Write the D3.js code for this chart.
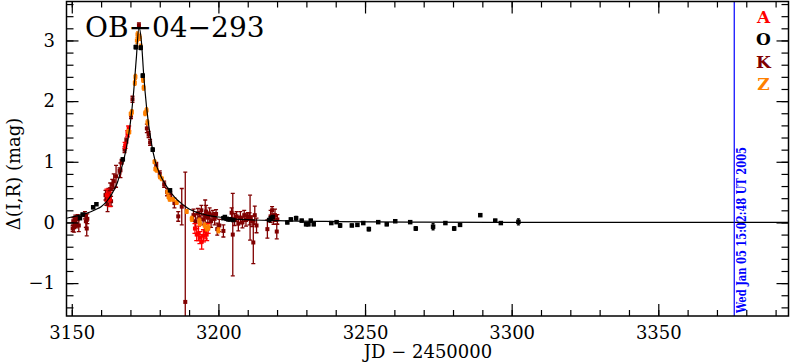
<!DOCTYPE html>
<html lang="en">
<head>
<meta charset="UTF-8">
<style>
  body { margin: 0; background: #fff; }
  text { font-family: "DejaVu Serif", serif; }
</style>
</head>
<body>
<script src="https://d3js.org/d3.v7.min.js"></script>
<script>
// model light curve: [JD-2450000, mag]
var model = [
  [3148.2, 0.07], [3150, 0.09], [3155, 0.15], [3158, 0.21], [3160, 0.26], [3162, 0.35],
  [3164, 0.50], [3165.5, 0.65], [3167, 0.90], [3168.5, 1.20], [3170, 1.65], [3171, 2.10],
  [3172, 2.70], [3172.9, 3.22], [3173.8, 2.95], [3174.5, 2.45], [3175.5, 1.90], [3177, 1.35],
  [3178.5, 1.00], [3180, 0.80], [3182, 0.62], [3184, 0.48], [3186, 0.37], [3188, 0.29],
  [3190, 0.22], [3193, 0.16], [3196, 0.12], [3200, 0.09], [3205, 0.06], [3210, 0.045],
  [3220, 0.03], [3240, 0.015], [3270, 0.005], [3300, 0], [3394.4, 0]
]

// observatories: [JD-2450000, mag, error]
var dataO = [
  [3152.8, 0.07, 0.02], [3153.7, 0.13, 0.02], [3157.3, 0.25, 0.02], [3158.4, 0.30, 0.02],
  [3167.4, 1.04, 0.02], [3171.8, 2.89, 0.03], [3173.5, 2.88, 0.03], [3174.2, 2.42, 0.03],
  [3177.6, 1.20, 0.03], [3183.5, 0.53, 0.02], [3201.7, 0.07, 0.02], [3202.2, 0.09, 0.02],
  [3202.8, 0.06, 0.02], [3203.4, 0.05, 0.02], [3204.0, 0.05, 0.02], [3205.1, 0.04, 0.02],
  [3217.3, 0.04, 0.02], [3217.9, 0.07, 0.02], [3218.5, 0.09, 0.02],
  [3223.5, 0.00, 0.02], [3224.7, 0.05, 0.02], [3226.5, 0.07, 0.03], [3228.4, 0.03, 0.02],
  [3229.9, -0.03, 0.02], [3230.7, -0.03, 0.02], [3231.5, 0.03, 0.02], [3232.5, -0.03, 0.02],
  [3238.5, -0.01, 0.02], [3240.3, 0.005, 0.02], [3241.5, -0.05, 0.03], [3245.5, -0.05, 0.02],
  [3247.4, -0.04, 0.02], [3249.4, -0.01, 0.02], [3251.3, -0.11, 0.03], [3254.5, 0.005, 0.02],
  [3257.4, -0.03, 0.02], [3260.3, 0.02, 0.02], [3265.4, 0.005, 0.02], [3267.3, -0.10, 0.03],
  [3273.2, -0.07, 0.05], [3277.4, -0.01, 0.02], [3280.4, -0.10, 0.03], [3282.4, -0.04, 0.02],
  [3289.3, 0.12, 0.02], [3294.4, 0.03, 0.02], [3296.3, -0.01, 0.02], [3302.3, 0.01, 0.05]
]
var dataK = [
  [3150.3, -0.10, 0.05], [3150.5, 0.02, 0.06], [3150.8, -0.08, 0.08], [3151.2, 0.05, 0.07],
  [3151.6, -0.03, 0.06], [3152.0, 0.08, 0.05], [3152.4, -0.05, 0.10], [3154.5, 0.12, 0.06],
  [3154.8, 0.02, 0.10], [3155.1, -0.10, 0.12], [3155.3, 0.06, 0.08],
  [3161.5, 0.45, 0.08], [3161.8, 0.38, 0.10], [3162.2, 0.30, 0.12], [3162.5, 0.50, 0.06],
  [3162.8, 0.42, 0.07], [3163.1, 0.55, 0.10], [3163.4, 0.35, 0.08], [3163.8, 0.62, 0.09],
  [3164.3, 0.68, 0.12], [3165.1, 0.76, 0.18], [3166.3, 0.85, 0.05], [3166.6, 0.86, 0.12],
  [3167.0, 1.00, 0.04], [3168.0, 1.20, 0.05], [3168.6, 1.35, 0.04], [3170.2, 1.76, 0.05],
  [3170.7, 2.03, 0.05], [3172.9, 3.25, 0.04],
  [3175.6, 1.55, 0.07], [3176.2, 1.45, 0.05], [3176.7, 1.32, 0.05], [3178.8, 0.95, 0.04],
  [3180.0, 0.80, 0.05], [3181.5, 0.63, 0.05], [3182.5, 0.50, 0.06], [3183.6, 0.45, 0.05],
  [3185.0, 0.32, 0.08], [3186.3, 0.10, 0.08], [3187.5, 0.26, 0.30], [3188.7, -1.31, 2.14],
  [3191.5, 0.12, 0.10], [3192.2, 0.02, 0.12], [3193.0, 0.15, 0.08], [3193.6, 0.08, 0.10],
  [3194.2, 0.20, 0.08], [3194.8, 0.05, 0.09], [3195.5, 0.12, 0.25], [3195.8, 0.18, 0.10],
  [3196.4, 0.08, 0.08], [3197.0, 0.15, 0.09], [3197.5, 0.02, 0.10], [3198.1, 0.12, 0.08],
  [3198.7, 0.06, 0.10], [3199.2, 0.14, 0.07], [3199.6, -0.11, 0.10], [3200.3, -0.05, 0.10],
  [3201.7, -0.14, 0.10], [3204.5, 0.16, 0.08], [3204.9, -0.20, 0.68], [3205.5, 0.05, 0.10],
  [3206.2, 0.10, 0.08], [3206.8, -0.02, 0.12], [3207.5, 0.08, 0.10], [3208.2, 0.00, 0.09],
  [3208.8, 0.12, 0.08], [3209.4, 0.04, 0.10], [3210.0, 0.10, 0.06], [3210.6, 0.06, 0.10],
  [3210.8, 0.08, 0.37], [3211.5, 0.02, 0.09], [3211.9, -0.33, 0.35], [3212.4, 0.12, 0.15],
  [3213.0, -0.05, 0.12], [3216.7, -0.11, 0.15], [3217.8, 0.10, 0.10], [3218.3, 0.20, 0.06],
  [3218.8, 0.05, 0.08], [3219.3, 0.12, 0.10], [3219.9, -0.15, 0.12], [3220.1, 0.05, 0.08]
]
var dataA = [
  [3162.0, 0.45, 0.10], [3163.0, 0.38, 0.12], [3168.2, 1.27, 0.05], [3169.0, 1.46, 0.05],
  [3169.4, 1.55, 0.04], [3192.0, -0.10, 0.08], [3192.6, -0.20, 0.10], [3193.2, -0.18, 0.12],
  [3193.7, -0.25, 0.10], [3194.3, -0.32, 0.12], [3194.9, -0.22, 0.10], [3195.5, -0.15, 0.12],
  [3196.0, -0.20, 0.10], [3196.5, -0.10, 0.08]
]
var dataZ = [
  [3169.3, 1.50, 0.03], [3169.6, 1.49, 0.03], [3170.1, 1.79, 0.03], [3170.5, 1.82, 0.04],
  [3171.5, 2.30, 0.04], [3171.7, 2.40, 0.04], [3172.2, 3.00, 0.05], [3172.4, 3.10, 0.04],
  [3173.2, 3.05, 0.05], [3173.5, 2.90, 0.04], [3174.3, 2.35, 0.04], [3174.5, 2.22, 0.04],
  [3175.0, 1.80, 0.04], [3175.5, 1.85, 0.04], [3175.8, 1.65, 0.04], [3178.2, 1.00, 0.03],
  [3178.5, 0.88, 0.03], [3179.0, 0.86, 0.03], [3180.1, 0.75, 0.03], [3180.7, 0.72, 0.03],
  [3182.6, 0.50, 0.03], [3183.0, 0.42, 0.03], [3183.4, 0.38, 0.03], [3184.6, 0.38, 0.03],
  [3185.8, 0.33, 0.03], [3189.2, 0.18, 0.03], [3190.9, 0.06, 0.04], [3193.5, 0.03, 0.04],
  [3193.7, -0.02, 0.03], [3195.3, -0.05, 0.04], [3196.0, -0.10, 0.04], [3196.6, -0.08, 0.04],
  [3200.0, -0.13, 0.04]
]

var legend = [['A', '#ff0000'], ['O', '#000000'], ['K', '#800000'], ['Z', '#ff8000']]
var xMajor = [3150, 3200, 3250, 3300, 3350]
var yMajor = [-1, 0, 1, 2, 3]
var stampDate = 3375.9
var stamp = 'Wed Jan 05 15:02:48 UT 2005'

var svgWidth = 790, svgHeight = 362
var L = 66.5, R = 788.5, T = 1.5, B = 316

var svg = d3.select('body').append('svg')
  .attr('width', svgWidth)
  .attr('height', svgHeight)

var xScale = d3.scaleLinear().domain([3148.2, 3394.4]).range([L, R])
var yScale = d3.scaleLinear().domain([-1.542, 3.642]).range([B, T])

svg.append('clipPath').attr('id', 'plot')
  .append('rect').attr('x', L).attr('y', T).attr('width', R - L).attr('height', B - T)

var plot = svg.append('g').attr('clip-path', 'url(#plot)')

function drawSet(data, color, size, cap) {
  var g = plot.append('g').attr('stroke', color).attr('fill', color)
  g.selectAll('line.bar').data(data).enter().append('line')
    .attr('x1', d => xScale(d[0])).attr('x2', d => xScale(d[0]))
    .attr('y1', d => yScale(d[1] - d[2])).attr('y2', d => yScale(d[1] + d[2]))
    .attr('stroke-width', 1.3)
  g.selectAll('line.top').data(data).enter().append('line')
    .attr('x1', d => xScale(d[0]) - cap).attr('x2', d => xScale(d[0]) + cap)
    .attr('y1', d => yScale(d[1] + d[2])).attr('y2', d => yScale(d[1] + d[2]))
    .attr('stroke-width', 1.3)
  g.selectAll('line.bot').data(data).enter().append('line')
    .attr('x1', d => xScale(d[0]) - cap).attr('x2', d => xScale(d[0]) + cap)
    .attr('y1', d => yScale(d[1] - d[2])).attr('y2', d => yScale(d[1] - d[2]))
    .attr('stroke-width', 1.3)
  g.selectAll('rect').data(data).enter().append('rect')
    .attr('x', d => xScale(d[0]) - size / 2).attr('y', d => yScale(d[1]) - size / 2)
    .attr('width', size).attr('height', size).attr('stroke', 'none')
}

drawSet(dataK, '#800000', 4, 2)
drawSet(dataA, '#ff0000', 4, 2.5)
drawSet(dataZ, '#ff8000', 4, 1.5)
drawSet(dataO, '#000000', 4.5, 1.5)

var line = d3.line().x(d => xScale(d[0])).y(d => yScale(d[1])).curve(d3.curveMonotoneX)
plot.append('path').datum(model)
  .attr('d', line).attr('fill', 'none').attr('stroke', '#000').attr('stroke-width', 1.2)

// blue time stamp
svg.append('line')
  .attr('x1', xScale(stampDate)).attr('x2', xScale(stampDate))
  .attr('y1', T).attr('y2', B).attr('stroke', '#0000ff').attr('stroke-width', 1.2)
svg.append('text')
  .attr('transform', 'translate(' + (xScale(stampDate) + 11.5) + ',' + (B - 3) + ') rotate(-90)')
  .attr('font-family', 'Liberation Serif').attr('font-weight', 'bold').attr('font-size', 12)
  .attr('fill', '#0000ff').attr('textLength', 166).attr('lengthAdjust', 'spacingAndGlyphs')
  .text(stamp)

// axes
function ticks(axis, tr, vals, size, labels) {
  var a = axis.tickValues(vals).tickSize(-size)
  a.tickFormat(labels ? d3.format('d') : '')
  var g = svg.append('g').attr('transform', tr).call(a)
  g.select('.domain').remove()
  g.selectAll('line').attr('stroke-width', 1.2)
  return g
}
var xMinor = d3.range(3150, 3400, 10)
var yMinor = d3.range(-14, 37, 2).map(v => v / 10)

ticks(d3.axisBottom(xScale), 'translate(0,' + B + ')', xMinor, 6)
ticks(d3.axisTop(xScale), 'translate(0,' + T + ')', xMinor, 6)
ticks(d3.axisTop(xScale), 'translate(0,' + T + ')', xMajor, 12)
ticks(d3.axisLeft(yScale), 'translate(' + L + ',0)', yMinor, 7)
ticks(d3.axisRight(yScale), 'translate(' + R + ',0)', yMinor, 7)
ticks(d3.axisRight(yScale), 'translate(' + R + ',0)', yMajor, 12)

ticks(d3.axisBottom(xScale).tickPadding(10), 'translate(0,' + B + ')', xMajor, 12, true)
ticks(d3.axisLeft(yScale).tickPadding(11.5), 'translate(' + L + ',0)', yMajor, 12, true)
svg.selectAll('.tick text')
  .attr('font-family', 'DejaVu Serif').attr('font-size', 18).attr('fill', '#000')

svg.append('rect')
  .attr('x', L).attr('y', T).attr('width', R - L).attr('height', B - T)
  .attr('fill', 'none').attr('stroke', '#000').attr('stroke-width', 1.5)

// titles
svg.append('text').attr('x', 85).attr('y', 36.5)
  .attr('font-size', 28).text('OB\u221204\u2212293')
svg.append('text').attr('x', 428).attr('y', 358).attr('text-anchor', 'middle')
  .attr('font-size', 18).text('JD \u2212 2450000')
svg.append('text')
  .attr('transform', 'translate(20,174) rotate(-90)').attr('text-anchor', 'middle')
  .attr('font-size', 18).text('\u0394(I,R) (mag)')

svg.selectAll('text.leg').data(legend).enter().append('text')
  .attr('class', 'leg')
  .attr('x', 763.5).attr('y', (d, i) => 23 + i * 22.4)
  .attr('text-anchor', 'middle').attr('font-weight', 'bold').attr('font-size', 17)
  .attr('fill', d => d[1]).text(d => d[0])
</script>
</body>
</html>
